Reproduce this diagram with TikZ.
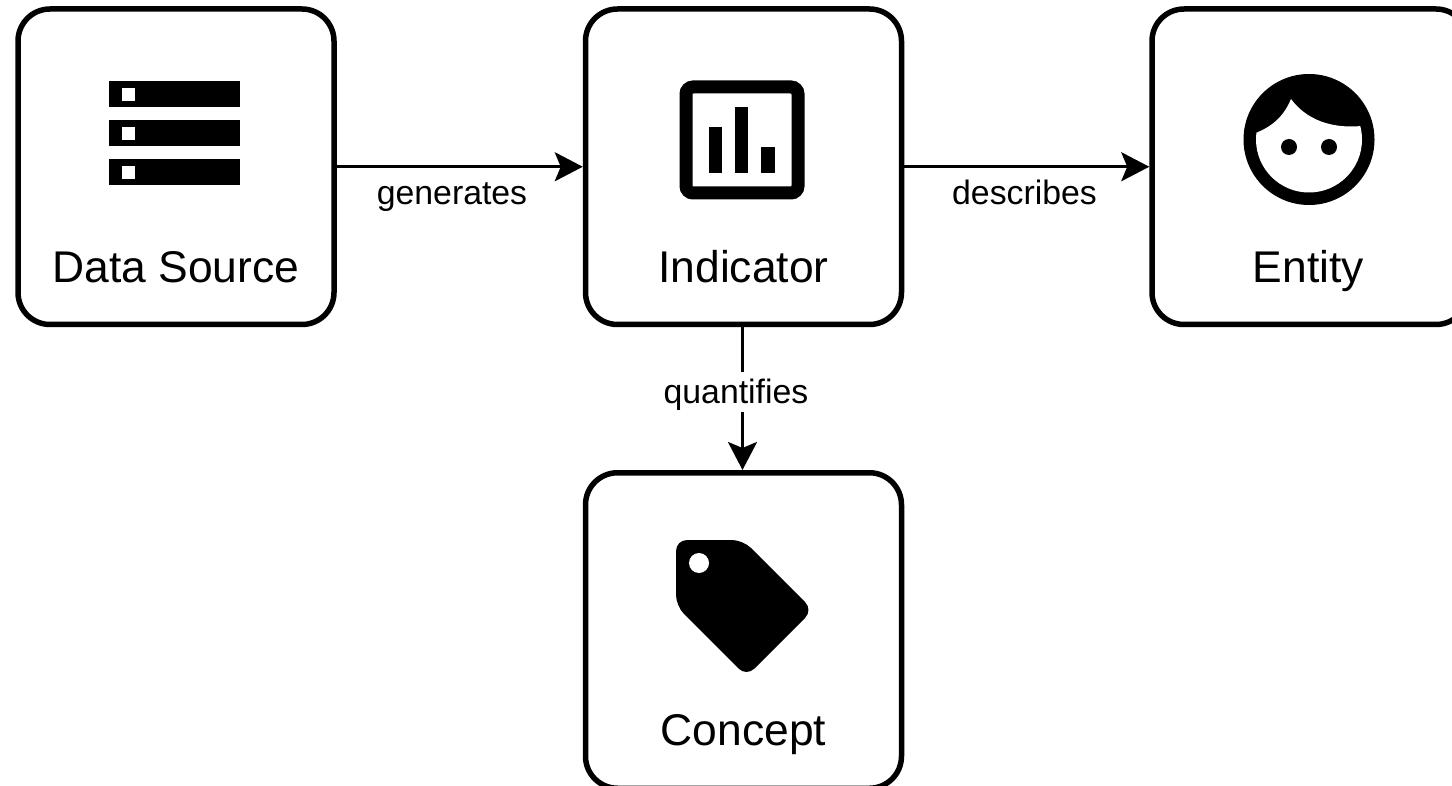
\documentclass[tikz,border=0pt]{standalone}
\usepackage{fontspec}
\setmainfont{Liberation Sans}
\usetikzlibrary{arrows.meta}
\tikzset{
  card/.style={draw=black,fill=white,line width=5.5pt,rounded corners=32pt,minimum width=316pt,minimum height=315.5pt,inner sep=0pt},
  cardtext/.style={font=\fontsize{44.4}{48}\selectfont,text=black,inner sep=0pt,anchor=base},
  linktext/.style={font=\fontsize{33.8}{36}\selectfont,text=black,inner sep=0pt,anchor=base},
  link/.style={draw=black,line width=3pt,-{Stealth[length=28pt,width=29pt,inset=6pt]}},
  ink/.style={fill=black,draw=none},
  paper/.style={fill=white,draw=none}
}
\begin{document}
\begin{tikzpicture}[x=1pt,y=-1pt]
\clip (0,0) rectangle (1452,786);
\fill[white] (0,0) rectangle (1452,786);
\node[card] (source) at (176,166.75) {};
\node[card] (indicator) at (743.5,166.75) {};
\node[card] (entity) at (1310,166.75) {};
\node[card] (concept) at (743.5,630.5) {};
\node[cardtext] (sourcetext) at (176,283) {Data Source};
\node[cardtext] (indicatortext) at (743.5,283) {Indicator};
\node[cardtext] (entitytext) at (1308.5,283) {Entity};
\node[cardtext] (concepttext) at (743.5,745) {Concept};
\draw[link] (source.east) -- (indicator.west);
\draw[link] (indicator.east) -- (entity.west);
\draw[link] ([xshift=-1pt]indicator.south) -- ([xshift=-1pt]concept.north);
\node[linktext] (generates) at (452,205) {generates};
\node[linktext] (describes) at (1024.5,205) {describes};
\node[linktext,fill=white,text height=31pt,text depth=9pt] (quantifies) at (736,403) {quantifies};
% data source icon
\foreach \t in {81,120,159}{
  \fill[ink] (109,\t) rectangle (240,\t+26.5);
  \fill[paper] (122,\t+7) rectangle (135,\t+20);
}
% indicator icon
\draw[black,line width=13pt,rounded corners=7pt] (686,87) rectangle (798,193);
\fill[ink] (709,127) rectangle (722,173);
\fill[ink] (735,107) rectangle (748,173);
\fill[ink] (761,147) rectangle (775,173);
% entity icon
\fill[ink] (1309,139.5) circle[radius=65.5];
\begin{scope}
  \clip (1309,139.5) circle[radius=53];
  \fill[paper] (1250,135) .. controls (1272,128) and (1284,116) .. (1291,99)
    .. controls (1305,118) and (1330,131) .. (1370,125) -- (1370,200) -- (1250,200) -- cycle;
\end{scope}
\fill[ink] (1289,147) circle[radius=8];
\fill[ink] (1329,147) circle[radius=8];
% concept icon
\fill[ink,rounded corners=11pt] (676,540) -- (743,540) -- (813,610) -- (746.5,676.5) -- (676,606) -- cycle;
\fill[paper] (699,563) circle[radius=10];
\end{tikzpicture}
\end{document}
